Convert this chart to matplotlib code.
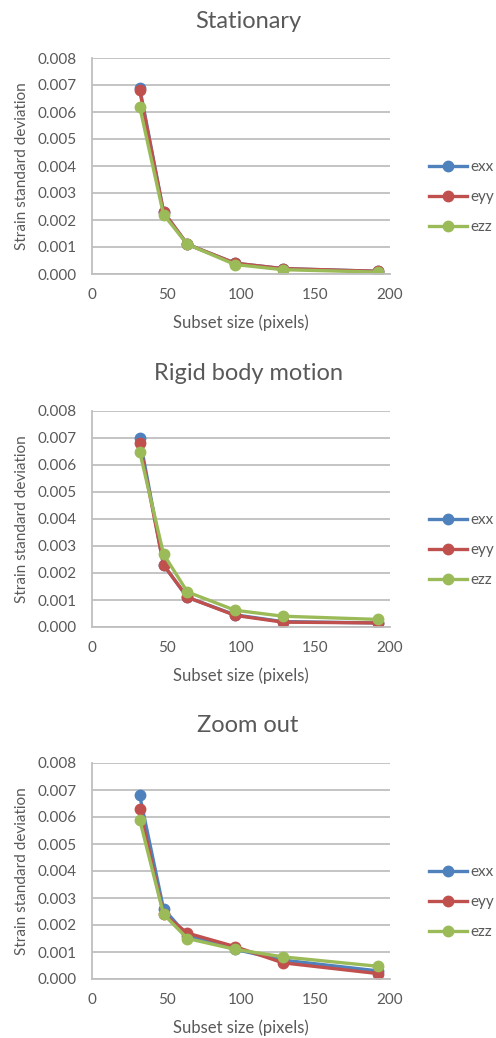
import matplotlib
matplotlib.use("Agg")
from matplotlib import pyplot as plt

plt.rcParams['font.family'] = ['Lato', 'DejaVu Sans']

# subset sizes (pixels)
subset = [32, 48, 64, 96, 128, 192]

# Stationary
stat_exx = [0.0069, 0.0023, 0.0011, 0.00040, 0.00020, 0.00010]
stat_eyy = [0.0068, 0.0023, 0.0011, 0.00040, 0.00020, 0.00010]
stat_ezz = [0.0062, 0.0022, 0.0011, 0.00035, 0.00016, 0.00007]

# Rigid body motion
rigid_exx = [0.0070, 0.0023, 0.0011, 0.00045, 0.00020, 0.00015]
rigid_eyy = [0.0068, 0.0023, 0.0011, 0.00043, 0.00018, 0.00015]
rigid_ezz = [0.0065, 0.0027, 0.0013, 0.00062, 0.00040, 0.00028]

# Zoom out
zoom_exx = [0.0068, 0.0026, 0.0016, 0.0011, 0.00070, 0.00030]
zoom_eyy = [0.0063, 0.0024, 0.0017, 0.0012, 0.00060, 0.00020]
zoom_ezz = [0.0059, 0.0024, 0.0015, 0.0011, 0.00082, 0.00047]

titles = ["Stationary", "Rigid body motion", "Zoom out"]
series = [[stat_exx, stat_eyy, stat_ezz],
          [rigid_exx, rigid_eyy, rigid_ezz],
          [zoom_exx, zoom_eyy, zoom_ezz]]
names = ["exx", "eyy", "ezz"]
colors = ["#4F81BD", "#C0504D", "#9BBB59"]

text_col = "#595959"
grid_col = "#BFBFBF"

W, H = 496, 1038
fig = plt.figure(figsize=(W / 100, H / 100), dpi=100)

# pixel boxes (top, bottom) of each plot area
boxes = [(58, 274), (411, 627), (763, 979)]
title_y = [21, 374, 726]
left, right = 92, 390

for i in range(3):
    top, bot = boxes[i]
    ax = fig.add_axes([left / W, 1 - bot / H, (right - left) / W, (bot - top) / H])
    for j in range(3):
        ax.plot(subset, series[i][j], color=colors[j], lw=2.4, marker='o',
                markersize=7.5, label=names[j], solid_joinstyle='round')
    ax.set_xlim(0, 200)
    ax.set_ylim(0, 0.008)
    ax.set_xticks([0, 50, 100, 150, 200])
    ax.set_yticks([0.001 * k for k in range(9)])
    ax.set_yticklabels(["%.3f" % (0.001 * k) for k in range(9)])
    ax.yaxis.grid(True, color=grid_col, lw=1.3)
    ax.set_axisbelow(True)
    for s in ['top', 'right']:
        ax.spines[s].set_visible(False)
    for s in ['left', 'bottom']:
        ax.spines[s].set_color(grid_col)
        ax.spines[s].set_linewidth(1.3)
    ax.tick_params(length=0, labelsize=11, labelcolor=text_col)
    ax.tick_params(axis='y', pad=11)
    ax.tick_params(axis='x', pad=10)
    ax.set_xlabel("Subset size (pixels)", fontsize=12, color=text_col, labelpad=9)
    ax.set_ylabel("Strain standard deviation", fontsize=11, color=text_col, labelpad=6)
    fig.text(0.5, 1 - title_y[i] / H, titles[i], ha='center', va='center',
             fontsize=17, color=text_col)
    ax.legend(loc='center left', bbox_to_anchor=(1.13, 0.356), frameon=False,
              fontsize=11, labelcolor=text_col, handlelength=2.5,
              handletextpad=0.2, labelspacing=1.05, borderpad=0, borderaxespad=0)

fig.savefig("out.png", dpi=100)
